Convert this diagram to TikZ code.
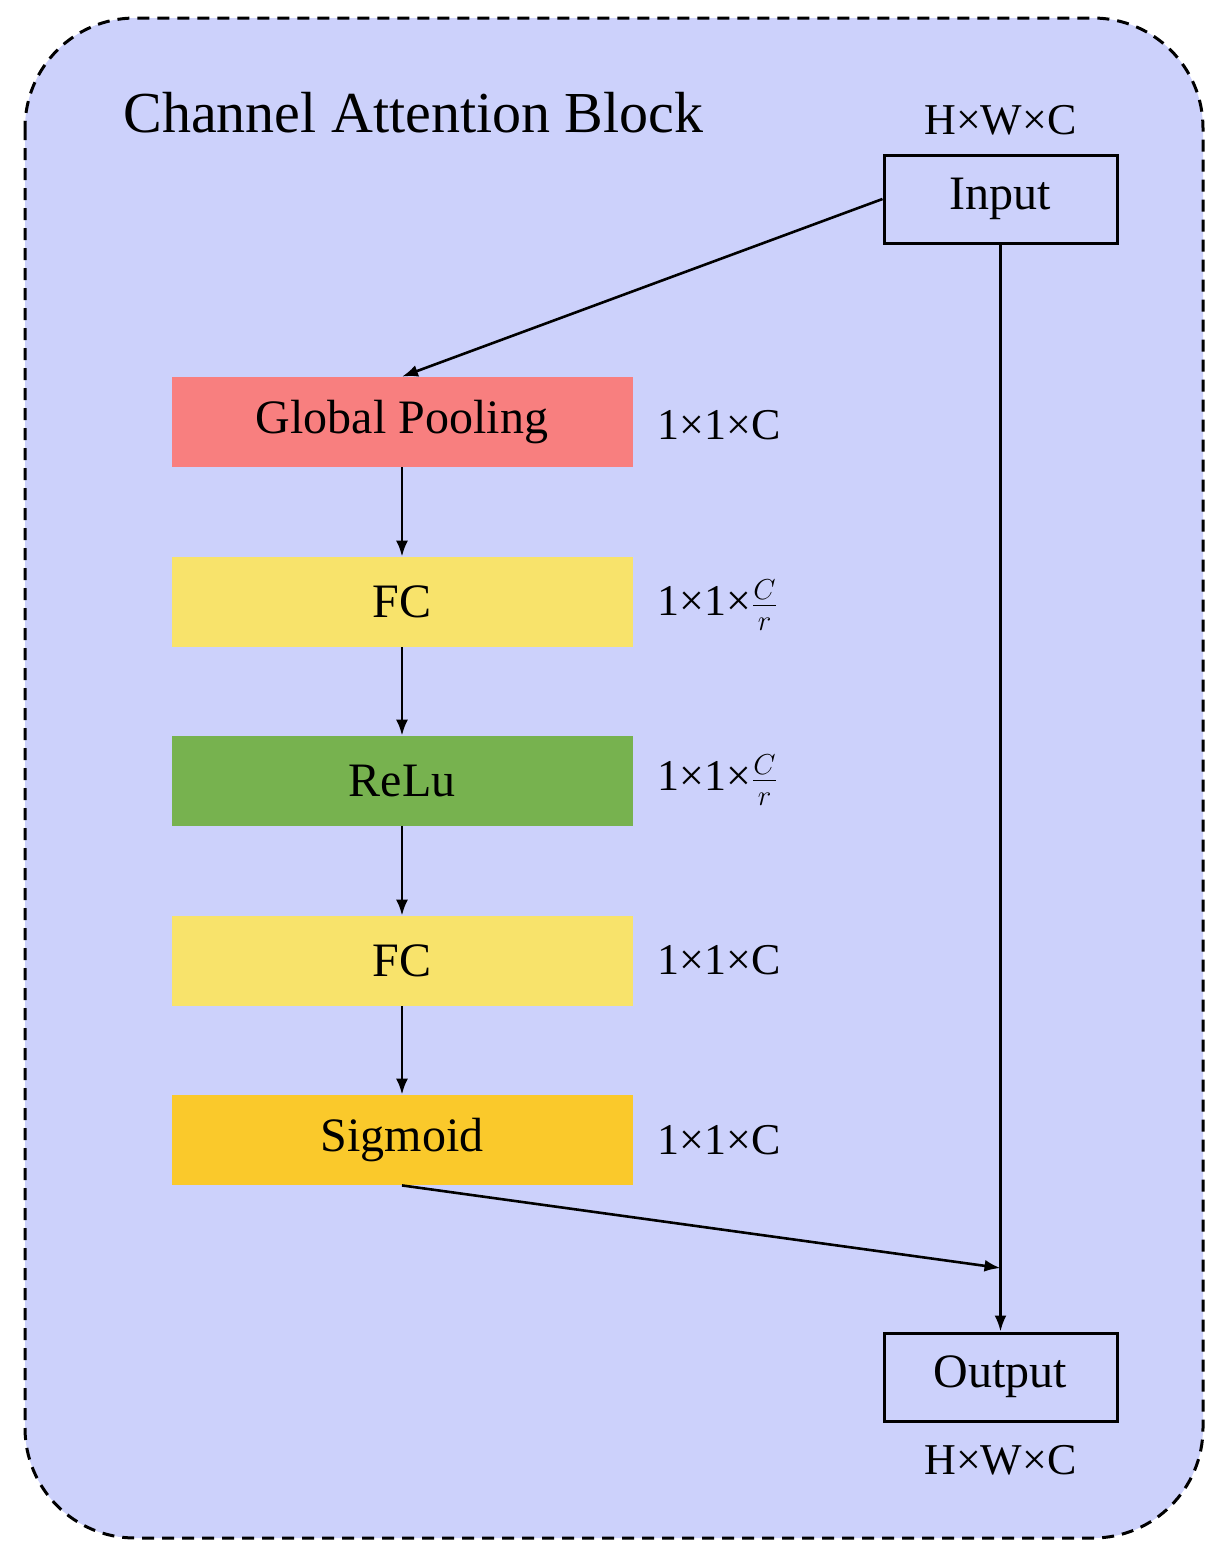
\documentclass[tikz,border=0pt]{standalone}
\usepackage{fontspec}
\setmainfont{Liberation Serif}
\usetikzlibrary{arrows.meta}
\definecolor{bg}{RGB}{204,209,251}
\definecolor{gp}{RGB}{248,127,127}
\definecolor{fc}{RGB}{248,227,107}
\definecolor{re}{RGB}{119,178,79}
\definecolor{sg}{RGB}{250,201,43}
\begin{document}
\begin{tikzpicture}[x=0.5pt,y=-0.5pt,
 blk/.style={minimum width=230.5pt,minimum height=45pt,inner sep=0pt,font=\fontsize{24}{28}\selectfont},
 io/.style={draw,line width=1.5pt,minimum width=116.5pt,minimum height=44pt,inner sep=0pt,font=\fontsize{24}{28}\selectfont},
 dim/.style={anchor=west,inner sep=0pt,font=\fontsize{22}{26}\selectfont},
 arr/.style={line width=1.3pt,-{Latex[length=8pt,width=6pt]}}]
\useasboundingbox (0,0) rectangle (1231,1555);
\draw[fill=bg,dashed,line width=1.5pt,dash pattern=on 6pt off 4pt,rounded corners=55pt] (25,18) rectangle (1203,1538);
\node[anchor=west,inner sep=0pt,font=\fontsize{29}{33}\selectfont] (title) at (123,113) {Channel Attention Block};
\node[blk,fill=gp] (gp) at (402,422) {Global Pooling};
\node[blk,fill=fc] (fc1) at (402,602) {FC};
\node[blk,fill=re] (re) at (402,781) {ReLu};
\node[blk,fill=fc] (fc2) at (402,961) {FC};
\node[blk,fill=sg] (sg) at (402,1140) {Sigmoid};
\node[io] (in) at (1000.5,199) {Input};
\node[io] (out) at (1000.5,1377) {Output};
\node[font=\fontsize{22}{26}\selectfont] (l1) at (1000.5,120) {H×W×C};
\node[font=\fontsize{22}{26}\selectfont] (l2) at (1000.5,1460) {H×W×C};
\node[dim] (d1) at (657,425) {1×1×C};
\node[dim] (d2) at (657,605) {1×1×$\frac{C}{r}$};
\node[dim] (d3) at (657,780) {1×1×$\frac{C}{r}$};
\node[dim] (d4) at (657,960) {1×1×C};
\node[dim] (d5) at (657,1140) {1×1×C};
\coordinate (m) at (1000.5,1268);
\draw[arr] (in.west) -- (gp.north);
\draw[arr] (gp) -- (fc1);
\draw[arr] (fc1) -- (re);
\draw[arr] (re) -- (fc2);
\draw[arr] (fc2) -- (sg);
\draw[arr] (in) -- (out);
\draw[arr] (sg.south) -- (m);
\end{tikzpicture}
\end{document}
